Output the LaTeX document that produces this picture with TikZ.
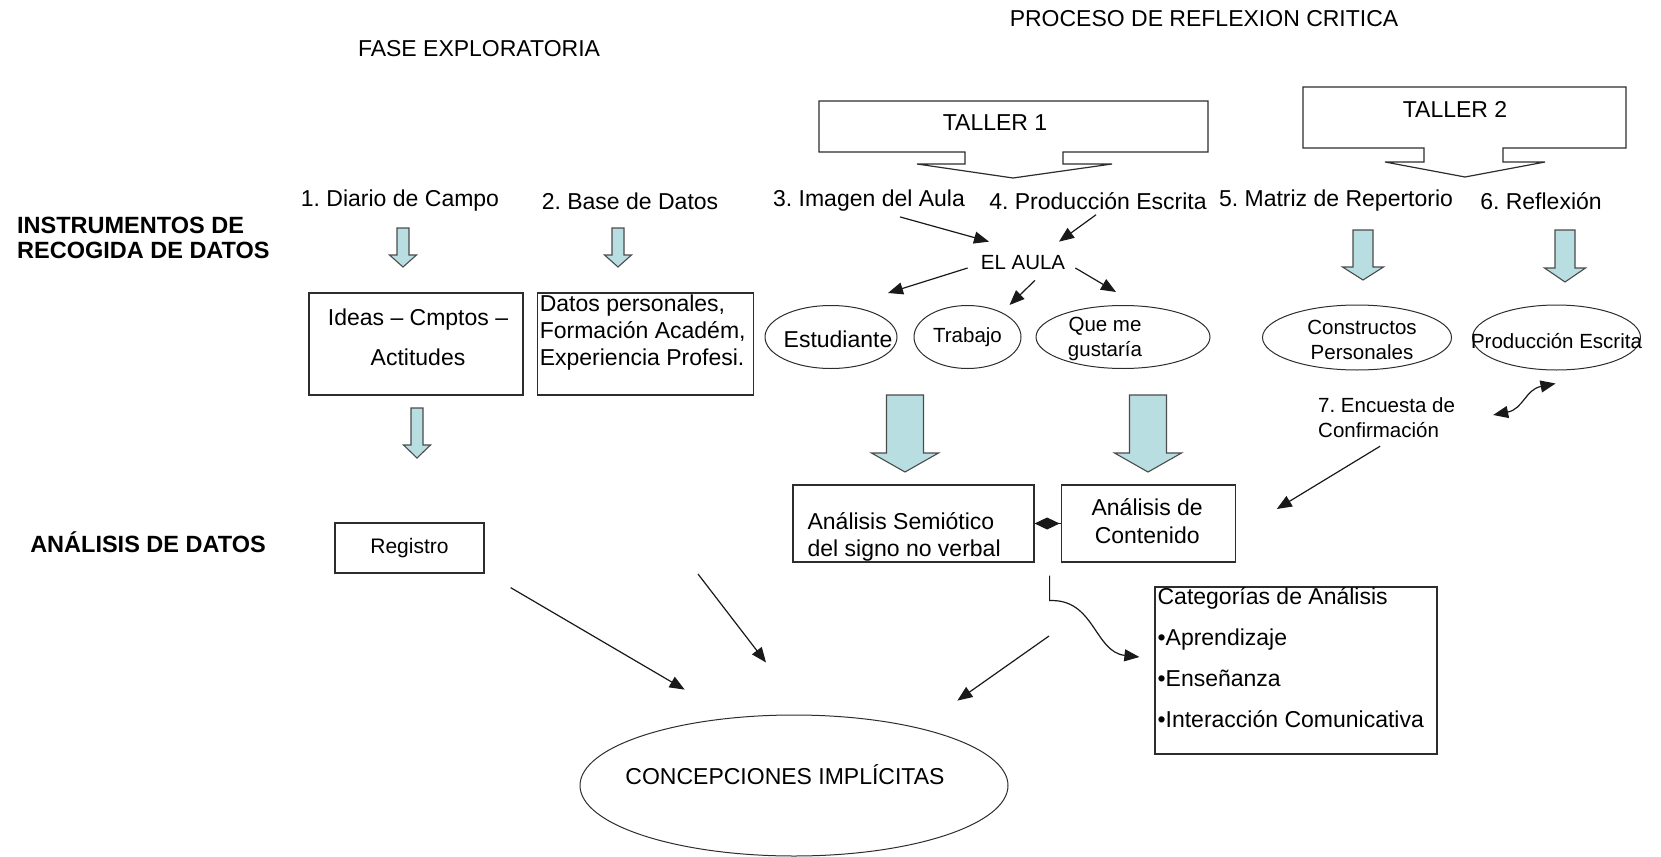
\documentclass[tikz,border=0pt]{standalone}
\usepackage{fontspec}
\setmainfont{Liberation Sans}
\usetikzlibrary{shapes.geometric, arrows.meta, positioning, calc}
\definecolor{mydark}{RGB}{25,25,25}
\definecolor{boxgray}{RGB}{45,45,45}
\definecolor{fatedge}{RGB}{75,75,75}
\definecolor{fatfill}{RGB}{184,222,226}
\tikzset{
  txt/.style={font=\fontsize{23}{27}\selectfont, inner sep=2pt},
  smalltxt/.style={font=\fontsize{20.5}{25}\selectfont, inner sep=2pt},
  headtxt/.style={font=\fontsize{23.5}{25.5}\selectfont\bfseries,
    align=left, inner sep=0pt},
  box/.style={rectangle, draw=boxgray, line width=1.2pt, inner sep=0pt},
  oval/.style={ellipse, draw=boxgray, line width=1pt, inner sep=0pt},
  callout/.style={draw=boxgray, fill=white, line width=1.2pt},
  arrow/.style={-{Triangle[length=15pt,width=12pt]}, line width=1.2pt, color=mydark},
  line/.style={line width=1.2pt, color=mydark},
  fatarrow/.style={draw=fatedge, fill=fatfill, line width=1.1pt},
  pics/downarrow/.style n args={4}{code={
    \draw[fatarrow] (-#1,0) -- (#1,0) -- (#1,{#3-#4}) -- (#2,{#3-#4})
      -- (0,#3) -- (-#2,{#3-#4}) -- (-#1,{#3-#4}) -- cycle;}}
}

\begin{document}
\frenchspacing
\begin{tikzpicture}[x=1pt, y=-1pt]
  \useasboundingbox (0,0) rectangle (1661,856);
  % headings
  \node[txt] (proceso) at (1204,19) {PROCESO DE REFLEXION CRITICA};
  \node[txt] (fase) at (479,49) {FASE EXPLORATORIA};
  \node[headtxt, anchor=west] (instr) at (17,238) {INSTRUMENTOS DE\\RECOGIDA DE DATOS};
  \node[headtxt] (analisis) at (148,542.5) {ANÁLISIS DE DATOS};

  % talleres
  \draw[callout] (819,101) -- (1208,101) -- (1208,152) -- (1063,152) -- (1063,164)
    -- (1112,164) -- (1013,178) -- (917,164) -- (965,164) -- (965,152) -- (819,152) -- cycle;
  \node[txt] (taller1) at (995,123) {TALLER 1};
  \draw[callout] (1303,87) -- (1626,87) -- (1626,148) -- (1503,148) -- (1503,162)
    -- (1545,162) -- (1465,177) -- (1385,162) -- (1424,162) -- (1424,148) -- (1303,148) -- cycle;
  \node[txt] (taller2) at (1455,109) {TALLER 2};

  % instrumentos
  \node[txt] (diario)  at (400,201)  {1. Diario de Campo};
  \node[txt] (base)    at (630,201)  {2. Base de Datos};
  \node[txt] (imagen)  at (869,201)  {3. Imagen del Aula};
  \node[txt] (prodesc) at (1098,201) {4. Producción Escrita};
  \node[txt] (matriz)  at (1336,201) {5. Matriz de Repertorio};
  \node[txt] (reflex)  at (1541,201) {6. Reflexión};

  \pic at (403,228)  {downarrow={6}{13.5}{39}{12}};
  \pic at (618,228)  {downarrow={6}{13.5}{39}{12}};
  \pic at (417,408)  {downarrow={6}{13.5}{50}{13}};
  \pic at (1363,230) {downarrow={10}{20.5}{50}{13}};
  \pic at (1565,230) {downarrow={10}{20.5}{52}{14}};
  \pic at (905,395)  {downarrow={18.5}{33.5}{77}{19}};
  \pic at (1148,395) {downarrow={18.5}{33.5}{77}{19}};

  % fase exploratoria
  \node[box, minimum width=214pt, minimum height=102pt] (ideas) at (416,344) {};
  \node[txt, align=center, font=\fontsize{23}{40}\selectfont] (ideastxt)
    at ([shift={(2,-7)}]ideas.center) {Ideas – Cmptos –\\Actitudes};
  \node[box, minimum width=216pt, minimum height=102pt, right=13pt of ideas] (datos) {};
  \node[txt, align=left, inner sep=0pt, anchor=north west] (datostxt)
    at ([shift={(3,2)}]datos.north west) {Datos personales,\\Formación Académ,\\Experiencia Profesi.};
  \node[box, minimum width=149pt, minimum height=50pt, font=\fontsize{21}{25}\selectfont]
    (registro) at (409.5,548) {Registro};

  % el aula
  \node[smalltxt] (aula) at (1023,263) {EL AULA};
  \node[oval, minimum width=132pt, minimum height=63pt] (estud) at (831,337) {};
  \node[txt] (estudtxt) at ([shift={(7,2)}]estud.center) {Estudiante};
  \node[oval, minimum width=107pt, minimum height=63pt, right=16pt of estud] (trab) {};
  \node[smalltxt] (trabtxt) at (trab.center) {Trabajo};
  \node[oval, minimum width=174pt, minimum height=63pt, right=14pt of trab] (gusta) {};
  \node[smalltxt, align=center] (gustatxt) at ([shift={(-18,2)}]gusta.center) {Que me\\gustaría};
  \node[oval, minimum width=189pt, minimum height=65pt] (constr) at (1357,337.5) {};
  \node[smalltxt, align=center] (constrtxt) at ([shift={(5,2)}]constr.center) {Constructos\\Personales};
  \node[oval, minimum width=168pt, minimum height=65pt, right=20pt of constr] (prodel) {};
  \node[smalltxt] (prodeltxt) at ([shift={(0,4)}]prodel.center) {Producción Escrita};
  \node[smalltxt, align=left, inner sep=0pt, anchor=west] (encuesta) at (1318,417.5)
    {7. Encuesta de\\Confirmación};

  % analisis (base = baseline of the last line)
  \node[box, minimum width=241pt, minimum height=77pt] (semio) at (913.5,523.5) {};
  \node[txt, align=left, inner sep=0pt, anchor=base west] (semiotxt)
    at ([shift={(15,32.5)}]semio.west) {Análisis Semiótico\\del signo no verbal};
  \node[box, minimum width=174pt, minimum height=77pt, right=26pt of semio] (conten) {};
  \node[txt, align=center, inner sep=0pt, anchor=base, font=\fontsize{23}{28}\selectfont] (contentxt)
    at ([shift={(-1,19.5)}]conten.center) {Análisis de\\Contenido};
  \node[box, minimum width=282pt, minimum height=167pt] (categ) at (1296,670.5) {};
  \node[txt, align=left, inner sep=0pt, anchor=base west, font=\fontsize{23}{41}\selectfont] (categtxt)
    at ([shift={(3,141)}]categ.north west)
    {Categorías de Análisis\\•Aprendizaje\\•Enseñanza\\•Interacción Comunicativa};
  \node[oval, minimum width=428pt, minimum height=141pt] (concep) at (794,785.5) {};
  \node[txt] (conceptxt) at ([shift={(-9,-11)}]concep.center) {CONCEPCIONES IMPLÍCITAS};

  % connectors
  \draw[arrow] ([shift={(31,3)}]imagen.south) -- ([shift={(-34,-12)}]aula.north);
  \draw[arrow] ([shift={(-2,3)}]prodesc.south) -- ([shift={(36,-12)}]aula.north);
  \draw[arrow] ([shift={(-11,5)}]aula.west) -- ([shift={(57,-44)}]estud.center);
  \draw[arrow] ([shift={(12,8)}]aula.south) -- ([shift={(42,-32)}]trab.center);
  \draw[arrow] ([shift={(8,5)}]aula.east) -- ([shift={(-7,-45)}]gusta.center);
  \draw[arrow] ([shift={(-6.5,8.5)}]encuesta.south) -- ([shift={(41,-14.5)}]conten.east);
  \draw[arrow, {Triangle[length=15pt,width=12pt]}-{Triangle[length=15pt,width=12pt]}]
    ([shift={(38,-2.5)}]encuesta.east) .. controls +(30,-6) and +(-30,6) .. ([shift={(-1,13)}]prodel.south);
  \draw[line, {Diamond[length=25pt,width=12pt]}-] (semio.east) -- (conten.west);
  \draw[arrow] ([shift={(15,13)}]semio.south east) -- ++(0,25)
    .. controls +(45,-2) and +(-45,-5) .. ([shift={(-15,-13.5)}]categ.west);
  \coordinate (fromcateg) at (1049,636);
  \coordinate (fromdatos) at (698,574);
  \draw[arrow] (fromcateg) -- ([shift={(11.7,-34.7)}]concep.north east);
  \draw[arrow] ([shift={(26,14)}]registro.south east) -- ([shift={(42.3,-45.7)}]concep.north west);
  \draw[arrow] (fromdatos) -- ([shift={(-28,-52)}]concep.north);
\end{tikzpicture}
\end{document}
